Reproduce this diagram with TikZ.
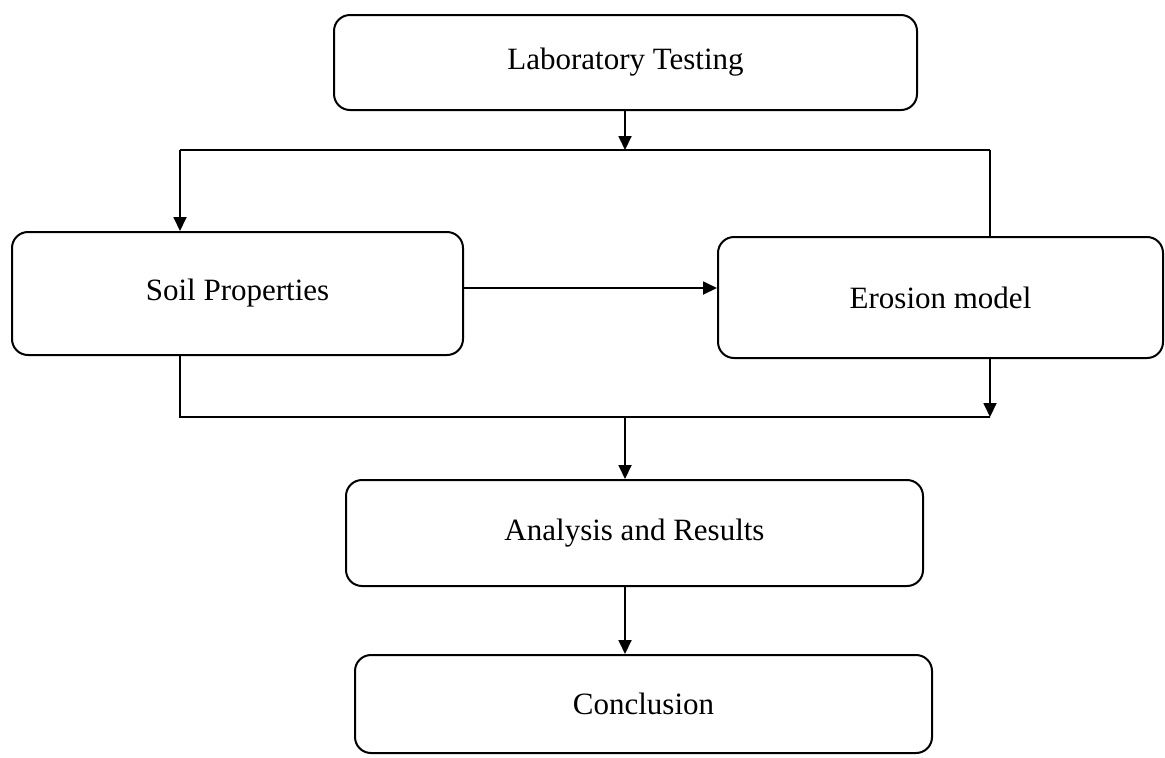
\documentclass[tikz,border=0pt]{standalone}
\usepackage{fontspec}
\setmainfont{Liberation Serif}
\usetikzlibrary{arrows.meta}
\begin{document}
\begin{tikzpicture}[x=0.5pt,y=-0.5pt,
  box/.style={draw,line width=1pt,rounded corners=8pt,inner sep=0pt,font=\fontsize{15.5}{18}\selectfont},
  line/.style={line width=0.9pt},
  arr/.style={line width=0.9pt,-{Triangle[length=7pt,width=6.5pt]}}]
\useasboundingbox[fill=white] (0,0) rectangle (1165,757);
\node[box,minimum width=291.5pt,minimum height=47.5pt] (lab) at (625.5,62.5) {Laboratory Testing};
\node[box,minimum width=225.5pt,minimum height=61.5pt] (soil) at (237.5,293.5) {Soil Properties};
\node[box,minimum width=222.5pt,minimum height=60.5pt] (ero) at (940.5,297.5) {Erosion model};
\node[box,minimum width=288.5pt,minimum height=53pt] (ana) at (634.5,533) {Analysis and Results};
\node[box,minimum width=288.5pt,minimum height=49pt] (conc) at (643.5,704) {Conclusion};
\coordinate (tM) at (625,150);
\coordinate (tL) at (180,150);
\coordinate (tR) at (990,150);
\coordinate (mid) at (0,288);
\coordinate (bL) at (180,417);
\coordinate (bR) at (990,417);
\coordinate (bM) at (625,417);
\draw[arr] (lab.south -| tM) -- (tM);
\draw[line] (tL) -- (tR);
\draw[arr] (tL) -- (soil.north -| tL);
\draw[line] (tR) -- (ero.north -| tR);
\draw[arr] (soil.east |- mid) -- (ero.west |- mid);
\draw[line] (soil.south -| bL) -- (bL) -- (bR);
\draw[arr] (ero.south -| bR) -- (bR);
\draw[arr] (bM) -- (ana.north -| bM);
\draw[arr] (ana.south -| bM) -- (conc.north -| bM);
\end{tikzpicture}
\end{document}
